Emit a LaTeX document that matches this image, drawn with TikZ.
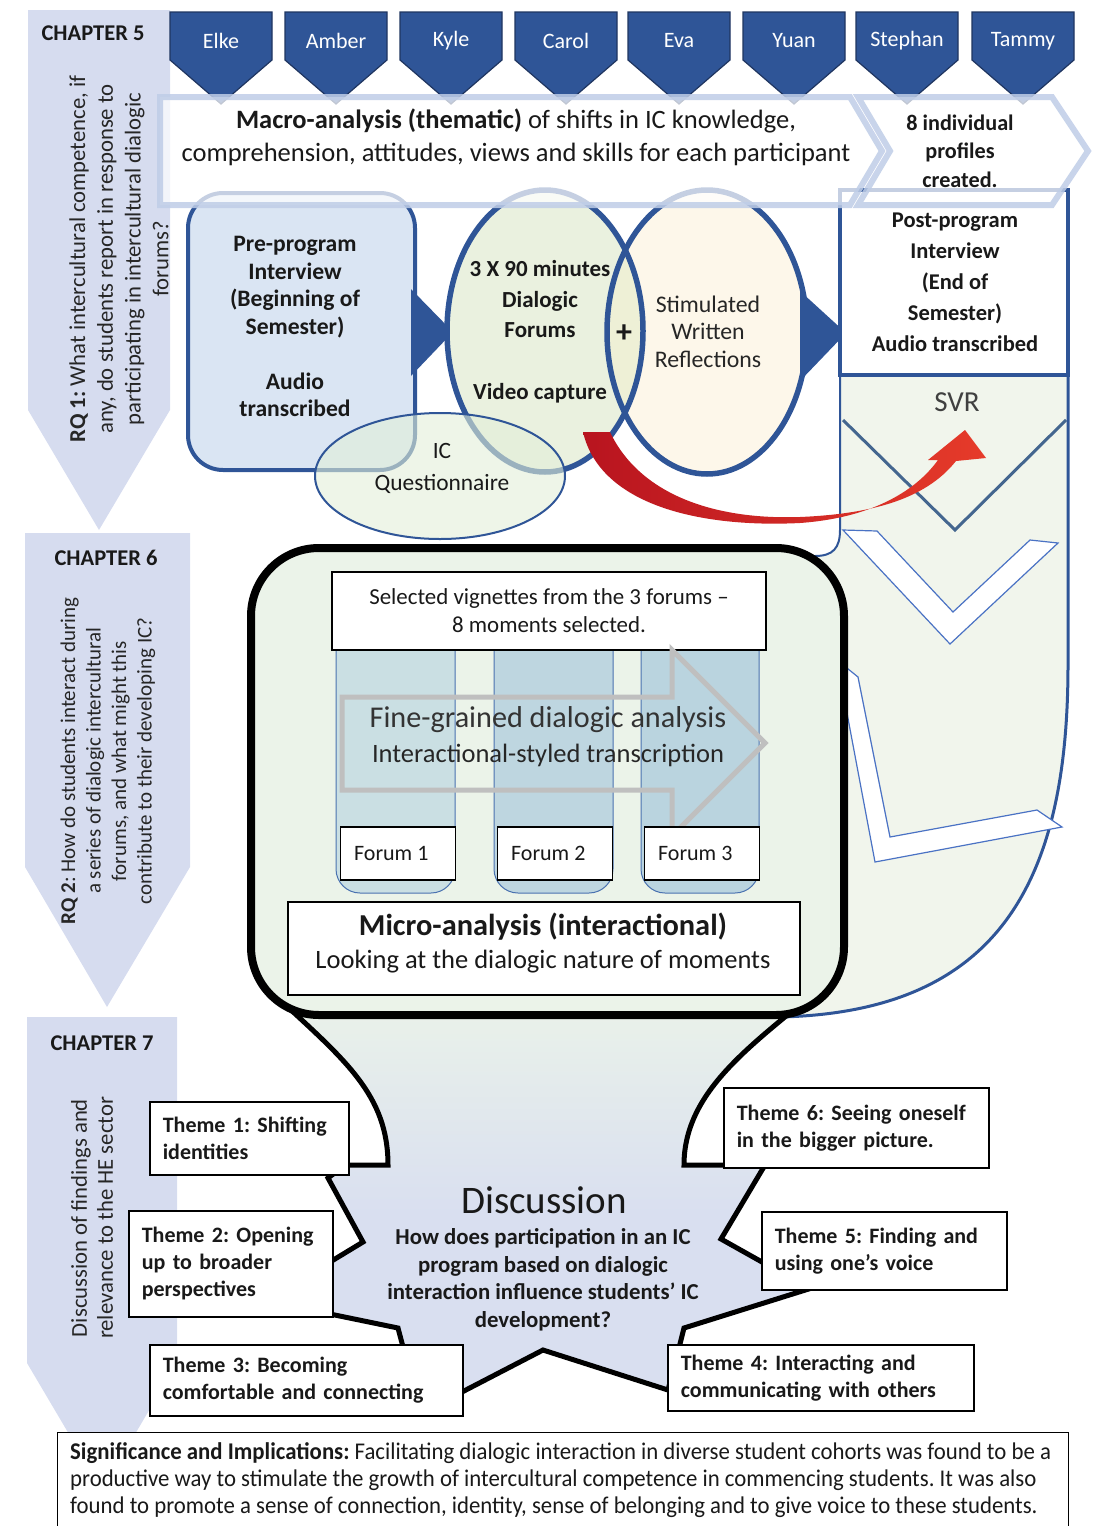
\documentclass[tikz,border=0pt]{standalone}
\usepackage{fontspec}
\setmainfont{Carlito}
\newfontfamily\narrowfont[FakeStretch=0.95]{Carlito}
\usetikzlibrary{shapes.geometric}

\definecolor{bannerfill}{HTML}{D6DCEF}
\definecolor{navy}{HTML}{2F5597}
\definecolor{navyedge}{HTML}{1F3560}
\definecolor{prefill}{HTML}{DAE5F3}
\definecolor{forumfill}{HTML}{EAF1DF}
\definecolor{creamfill}{HTML}{FDF7EA}
\definecolor{lensfill}{HTML}{EEF0D6}
\definecolor{icfill}{HTML}{E2EFD9}
\definecolor{svrfill}{HTML}{F1F5EC}
\definecolor{svrline}{HTML}{44668F}
\definecolor{chevedge}{HTML}{4A72C4}
\definecolor{framefill}{HTML}{EBF3E9}
\definecolor{colA}{HTML}{CADFE3}
\definecolor{colB}{HTML}{BED6E0}
\definecolor{colC}{HTML}{BAD4DF}
\definecolor{coledge}{HTML}{4A72B0}
\definecolor{arrowgrey}{HTML}{BFBFBF}
\definecolor{lavender}{HTML}{D9DFF0}
\definecolor{macroedge}{HTML}{BFCDE7}
\definecolor{redA}{HTML}{B8141F}
\definecolor{redB}{HTML}{E63B2A}

\newcommand{\fsz}[2]{\fontsize{#1}{#2}\selectfont}
\newcommand{\funnelpath}{(278,998) .. controls (345,1060) and (388,1095) .. (388,1165)
  -- (345,1165) -- (328,1178) -- (363,1242) -- (330,1262) -- (330,1314) -- (398,1328)
  -- (407,1362) -- (462,1392) -- (543,1350) -- (668,1390) -- (678,1352) -- (684,1328)
  -- (815,1287) -- (762,1262) -- (721,1239) -- (765,1165) -- (725,1165) -- (684,1165)
  .. controls (684,1095) and (745,1050) .. (808,998) -- cycle}

\begin{document}
\frenchspacing
\begin{tikzpicture}[x=1pt,y=-1pt,
  every node/.style={inner sep=0pt, text=black!90},
  banner/.style={fill=bannerfill},
  chaptertitle/.style={font=\bfseries\fsz{22.5}{26}},
  rqtext/.style={rotate=90, align=center, text=black!85},
  badgeshape/.style={fill=navy, draw=navyedge, line width=1.2pt},
  badgetext/.style={text=white, font=\fsz{22}{26}},
  macroshape/.style={fill=white, fill opacity=0.72, draw=macroedge, draw opacity=0.85, line width=6pt, line join=miter},
  prebox/.style={fill=prefill, draw=navy, line width=4pt, rounded corners=35pt},
  postbox/.style={fill=white, draw=navy, line width=3.5pt},
  ring/.style={draw=navy, line width=5.5pt},
  chevron/.style={fill=white, draw=chevedge, line width=1.2pt},
  plainbox/.style={draw=black, line width=1.2pt, fill=white},
  column/.style={draw=coledge, line width=1pt, rounded corners=24pt},
  themebox/.style={draw=black, line width=1.6pt, fill=white, anchor=north west,
    font=\bfseries\fsz{22}{27}, align=left, inner xsep=13pt},
]
\useasboundingbox (0,0) rectangle (1097,1526);

% ---------- chapter banners ----------
\fill[banner] (28,10) -- (170,10) -- (170,410) -- (99,530) -- (28,410) -- cycle;
\fill[banner] (25,533) -- (190,533) -- (190,867) -- (107,1007) -- (25,867) -- cycle;
\fill[banner] (27,1017) -- (177,1017) -- (177,1363) -- (102,1490) -- (27,1363) -- cycle;
\node[chaptertitle] (ch5) at (93,33) {CHAPTER 5};
\node[chaptertitle] (ch6) at (106,558) {CHAPTER 6};
\node[chaptertitle] (ch7) at (102,1043) {CHAPTER 7};
\node[rqtext, font=\fsz{22.7}{27.7}] (rq1) at (119,259)
  {\textbf{RQ 1:} What intercultural competence, if\\any, do students report in response to\\participating in intercultural dialogic\\forums?};
\node[rqtext, font=\fsz{21}{25.5}] (rq2) at (108,761)
  {\textbf{RQ 2}: How do students interact during\\a series of dialogic intercultural\\forums, and what might this\\contribute to their developing IC?};
\node[rqtext, font=\fsz{22.7}{26}] (ch7text) at (92,1218)
  {Discussion of findings and\\relevance to the HE sector};

% ---------- SVR return band ----------
\fill[svrfill] (840,375) -- (1068,375) -- (1068,665) .. controls (1068,880) and (1000,1012) .. (780,1017)
  -- (780,556) -- (815,556) .. controls (833,556) and (840,548) .. (840,530) -- cycle;
\draw[navy, line width=3pt] (1068,375) -- (1068,665) .. controls (1068,880) and (1000,1012) .. (780,1017);
\draw[navy, line width=2pt] (840,375) -- (840,530) .. controls (840,548) and (833,556) .. (815,556) -- (790,556);
\draw[svrline, line width=3pt] (843,420) -- (955,530) -- (1066,420);
\filldraw[chevron] (843,530) -- (877,531) -- (953,612) -- (1030,540) -- (1058,543) -- (950,644) -- cycle;
\filldraw[chevron] (837,660) -- (858,677) -- (890,837) -- (1037,810) -- (1062,827) -- (875,862) -- cycle;
\node[font=\fsz{29}{32}, text=black!75] (svr) at (957,402) {SVR};

% ---------- pre-program interview ----------
\node[prebox, minimum width=227pt, minimum height=277pt] (pre) at (301.5,331.5) {};
\node[font=\bfseries\fsz{23.6}{27.5}, align=center] (pretext) at (295,326.5)
  {Pre-program\\Interview\\(Beginning of\\Semester)\\[27.5pt]Audio\\transcribed};
\fill[navy] (411,289) -- (453,332) -- (411,376) -- cycle;

% ---------- forums and reflections ----------
\node[ellipse, fill=forumfill, minimum width=196pt, minimum height=282pt] (forums) at (545,331) {};
\node[ellipse, fill=creamfill, minimum width=200pt, minimum height=284pt] (reflect) at (707,332) {};
\begin{scope}
  \clip (545,331) ellipse [x radius=98pt, y radius=141pt];
  \fill[lensfill] (707,332) ellipse [x radius=100pt, y radius=142pt];
\end{scope}
\draw[ring] (545,331) ellipse [x radius=98pt, y radius=141pt];
\draw[ring] (707,332) ellipse [x radius=100pt, y radius=142pt];
\node[font=\bfseries\fsz{23}{30.75}, align=center] (forumtext) at (540,331.5)
  {3 X 90 minutes\\Dialogic\\Forums\\[30.75pt]Video capture};
\node[font=\fsz{23.8}{27.5}, align=center, text=black!85] (refltext) at (708,331.5)
  {Stimulated\\Written\\Reflections};
\node[font=\bfseries\fsz{32}{32}] (plus) at (624,334) {+};
\fill[navy] (800,291) -- (846,333) -- (800,381) -- cycle;

% ---------- post-program interview ----------
\node[postbox, minimum width=228pt, minimum height=185pt] (post) at (954,282.5) {};
\node[font=\bfseries\fsz{22.5}{31}, align=center] (posttext) at (955,282.5)
  {Post-program\\Interview\\(End of\\Semester)\\Audio transcribed};

% ---------- questionnaire ----------
\node[ellipse, fill=icfill, fill opacity=0.6, draw=navy, line width=2pt,
  minimum width=250pt, minimum height=126pt] (ic) at (440,476) {};
\node[font=\fsz{23.4}{32}, align=center] (ictext) at (442,468) {IC\\Questionnaire};

% ---------- red sweep into SVR ----------
\shade[left color=redA, right color=redB]
  (583,432) .. controls (600,505) and (700,528) .. (800,523)
  .. controls (870,518) and (915,492) .. (938,460)
  -- (928,460) -- (965,430) -- (986,458) -- (956,461)
  .. controls (925,500) and (870,514) .. (800,517)
  .. controls (715,520) and (640,495) .. (610,432) -- cycle;

% ---------- participants ----------
\foreach \l/\name [count=\i] in {170/Elke,285/Amber,400/Kyle,515/Carol,628/Eva,743/Yuan,856/Stephan,972/Tammy}{
  \filldraw[badgeshape] (\l,12) -- ++(102,0) -- ++(0,48) -- ++(-51,44) -- ++(-51,-44) -- cycle;
  \node[badgetext] (badge\i) at (\l+51,41) {\name};
}

% ---------- macro-analysis band ----------
\path[macroshape] (160,97) -- (850,97) -- (882,151) -- (850,205) -- (160,205) -- cycle;
\path[macroshape] (858,97) -- (1052,97) -- (1088,151) -- (1052,205) -- (858,205) -- (890,151) -- cycle;
\node[font=\fsz{26.5}{33}, align=center] (macro) at (516,137)
  {\textbf{Macro-analysis (thematic)} of shifts in IC knowledge,\\comprehension, attitudes, views and skills for each participant};
\node[font=\bfseries\fsz{22.2}{28.5}, align=center] (profiles) at (960,151)
  {8 individual\\profiles\\created.};

% ---------- discussion funnel ----------
\fill[lavender] \funnelpath;
\begin{scope}
  \clip \funnelpath;
  \fill[top color=framefill, bottom color=lavender] (250,990) rectangle (850,1215);
\end{scope}
\draw[line width=5pt, line join=miter] \funnelpath;

% ---------- micro-analysis frame ----------
\node[draw=black, line width=8pt, fill=framefill, rounded corners=68pt,
  minimum width=593pt, minimum height=467pt] (frame) at (547.5,781.5) {};
\filldraw[column, fill=colA] (336,645) -- (336,893) -- (455,893) -- (455,645);
\filldraw[column, fill=colB] (494,645) -- (494,893) -- (613,893) -- (613,645);
\filldraw[column, fill=colC] (641,645) -- (641,893) -- (759,893) -- (759,645);
\node[plainbox, minimum width=434pt, minimum height=78pt, font=\fsz{22.9}{28}, align=center] (vignettes)
  at (549,611) {Selected vignettes from the 3 forums –\\8 moments selected.};
\draw[arrowgrey, line width=5pt, line join=miter]
  (342,697) -- (672,697) -- (672,650) -- (765,743) -- (672,836) -- (672,790) -- (342,790) -- cycle;
\foreach \cx/\k in {398/1,555/2,702/3}{
  \node[plainbox, minimum width=115pt, minimum height=53pt] (forum\k) at (\cx,853.5) {};
  \node[anchor=west, font=\fsz{22}{25}] (forumlabel\k) at ([xshift=14pt]forum\k.west) {Forum \k};
}
\node[font=\fsz{30.2}{34}, text=black!80] (fine) at (548,720) {Fine-grained dialogic analysis};
\node[font=\fsz{26.5}{30}, text=black!85] (interact) at (548,755) {Interactional-styled transcription};
\node[plainbox, minimum width=512pt, minimum height=93pt] (microbox) at (544,948.5) {};
\node[font=\bfseries\fsz{30.4}{34}] (microtitle) at (543,927) {Micro-analysis (interactional)};
\node[font=\fsz{26.5}{30}] (microsub) at (543,962) {Looking at the dialogic nature of moments};

% ---------- themes ----------
\node[themebox, text width=173pt, minimum height=73pt] (t1) at (149,1101) {Theme 1: Shifting\\identities};
\node[themebox, text width=178pt, minimum height=106pt] (t2) at (128,1210) {Theme 2: Opening\\up to broader\\perspectives};
\node[themebox, text width=287pt, minimum height=71pt] (t3) at (149,1344) {Theme 3: Becoming\\comfortable and connecting};
\node[themebox, text width=239pt, minimum height=80pt] (t6) at (723,1087) {Theme 6: Seeing oneself\\in the bigger picture.};
\node[themebox, text width=219pt, minimum height=78pt] (t5) at (761,1211) {Theme 5: Finding and\\using one’s voice};
\node[themebox, text width=280pt, minimum height=66pt] (t4) at (667,1344) {Theme 4: Interacting and\\communicating with others};

\node[font=\fsz{39}{44}] (disc) at (544,1200) {Discussion};
\node[font=\bfseries\fsz{22.8}{27.5}, align=center] (question) at (543,1280)
  {How does participation in an IC\\program based on dialogic\\interaction influence students’ IC\\development?};

% ---------- significance ----------
\node[plainbox, anchor=north west, minimum width=1011pt, minimum height=100pt] (sigbox) at (57,1432) {};
\node[anchor=west, font=\narrowfont\fsz{24}{27}, align=left] (sig) at (70,1480)
  {\textbf{Significance and Implications:} Facilitating dialogic interaction in diverse student cohorts was found to be a\\
   productive way to stimulate the growth of intercultural competence in commencing students. It was also\\
   found to promote a sense of connection, identity, sense of belonging and to give voice to these students.};
\end{tikzpicture}
\end{document}
